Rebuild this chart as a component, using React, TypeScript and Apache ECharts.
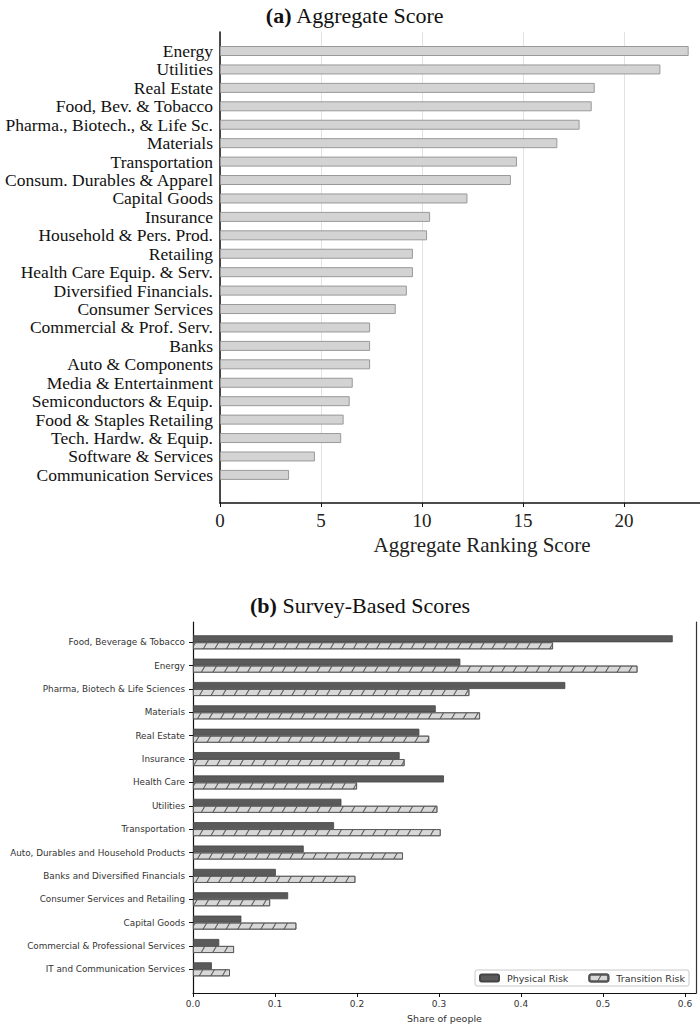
import React, { useEffect, useRef } from "react";
import * as echarts from "echarts";

const topCategories = [
  "Energy",
  "Utilities",
  "Real Estate",
  "Food, Bev. & Tobacco",
  "Pharma., Biotech., & Life Sc.",
  "Materials",
  "Transportation",
  "Consum. Durables & Apparel",
  "Capital Goods",
  "Insurance",
  "Household & Pers. Prod.",
  "Retailing",
  "Health Care Equip. & Serv.",
  "Diversified Financials.",
  "Consumer Services",
  "Commercial & Prof. Serv.",
  "Banks",
  "Auto & Components",
  "Media & Entertainment",
  "Semiconductors & Equip.",
  "Food & Staples Retailing",
  "Tech. Hardw. & Equip.",
  "Software & Services",
  "Communication Services",
];
const aggregateScores = [
  23.2, 21.8, 18.55, 18.4, 17.8, 16.7, 14.7, 14.4, 12.25, 10.4, 10.25, 9.55,
  9.55, 9.25, 8.7, 7.43, 7.43, 7.43, 6.57, 6.42, 6.12, 6.0, 4.7, 3.42,
];

const surveyCategories = [
  "Food, Beverage & Tobacco",
  "Energy",
  "Pharma, Biotech & Life Sciences",
  "Materials",
  "Real Estate",
  "Insurance",
  "Health Care",
  "Utilities",
  "Transportation",
  "Auto, Durables and Household Products",
  "Banks and Diversified Financials",
  "Consumer Services and Retailing",
  "Capital Goods",
  "Commercial & Professional Services",
  "IT and Communication Services",
];
const physicalRisk = [
  0.585, 0.326, 0.454, 0.296, 0.276, 0.252, 0.306, 0.181, 0.172, 0.135, 0.101,
  0.116, 0.059, 0.032, 0.023,
];
const transitionRisk = [
  0.439, 0.542, 0.337, 0.35, 0.288, 0.258, 0.2, 0.298, 0.302, 0.256, 0.198,
  0.094, 0.126, 0.05, 0.045,
];
const seriesNames = ["Physical Risk", "Transition Risk"];

const SERIF = "Liberation Serif";
const SANS = "DejaVu Sans";

export default function App() {
  const ref = useRef<HTMLDivElement>(null);
  useEffect(() => {
    const chart = echarts.init(ref.current!, null, { renderer: "svg" });
    const hatch = {
      symbol: "rect",
      symbolSize: 1,
      color: "#555",
      dashArrayX: [1, 0],
      dashArrayY: [1, 9],
      rotation: -Math.PI / 3,
    };
    chart.setOption({
      animation: false,
      backgroundColor: "#fff",
      graphic: [
        {
          type: "text",
          x: 355,
          y: 15,
          style: {
            text: "{b|(a)} Aggregate Score",
            fontFamily: SERIF,
            fontSize: 22,
            fill: "#111",
            textAlign: "center",
            textVerticalAlign: "middle",
            rich: { b: { fontWeight: "bold", fontFamily: SERIF, fontSize: 22, fill: "#111" } },
          },
        },
        {
          type: "text",
          x: 360,
          y: 605,
          style: {
            text: "{b|(b)} Survey-Based Scores",
            fontFamily: SERIF,
            fontSize: 22,
            fill: "#111",
            textAlign: "center",
            textVerticalAlign: "middle",
            rich: { b: { fontWeight: "bold", fontFamily: SERIF, fontSize: 22, fill: "#111" } },
          },
        },
      ],
      legend: {
        data: seriesNames,
        left: 475,
        top: 970,
        orient: "horizontal",
        itemWidth: 19,
        itemHeight: 7,
        itemGap: 20,
        padding: [3, 4, 3, 4],
        borderColor: "#c8c8c8",
        borderWidth: 1,
        borderRadius: 2,
        textStyle: { fontFamily: SANS, fontSize: 9.5, color: "#333", padding: [0, 0, 0, 3] },
      },
      grid: [
        { left: 220, width: 480, top: 32, height: 471 },
        { left: 220, width: 480, top: 41.8, height: 18.43 * 24 },
        { left: 193, width: 503, top: 622, height: 371 },
        { left: 193, width: 503, top: 630.6, height: 23.36 * 15 },
      ],
      xAxis: [
        {
          gridIndex: 0,
          type: "value",
          min: 0,
          max: 23.76,
          interval: 5,
          axisLine: { show: true, lineStyle: { color: "#111", width: 1.5 } },
          axisTick: { show: true, length: 4, lineStyle: { color: "#111" } },
          axisLabel: {
            fontFamily: SERIF,
            fontSize: 19,
            color: "#222",
            margin: 8,
            showMaxLabel: false,
          },
          splitLine: { show: true, lineStyle: { color: "#e2e2e2", width: 1 } },
          name: "Aggregate Ranking Score",
          nameLocation: "middle",
          nameGap: 31,
          nameTextStyle: {
            fontFamily: SERIF,
            fontSize: 21,
            color: "#222",
            padding: [0, 0, 0, 44],
          },
        },
        {
          gridIndex: 1,
          type: "value",
          min: 0,
          max: 23.76,
          show: false,
        },
        {
          gridIndex: 2,
          type: "value",
          min: 0,
          max: 0.6134,
          interval: 0.1,
          axisLine: { show: true, lineStyle: { color: "#111", width: 1.2 } },
          axisTick: { show: true, length: 4, lineStyle: { color: "#111" } },
          axisLabel: {
            fontFamily: SANS,
            fontSize: 9,
            color: "#333",
            margin: 6,
            formatter: (v: number) => v.toFixed(1),
            showMaxLabel: false,
          },
          splitLine: { show: false },
          name: "Share of people",
          nameLocation: "middle",
          nameGap: 20,
          nameTextStyle: { fontFamily: SANS, fontSize: 9.5, color: "#333" },
        },
        {
          gridIndex: 3,
          type: "value",
          min: 0,
          max: 0.6134,
          show: false,
        },
      ],
      yAxis: [
        {
          gridIndex: 0,
          type: "value",
          min: 0,
          max: 1,
          axisLine: { show: true, lineStyle: { color: "#111", width: 1.5 } },
          axisTick: { show: false },
          axisLabel: { show: false },
          splitLine: { show: false },
        },
        {
          gridIndex: 1,
          type: "category",
          data: topCategories,
          inverse: true,
          axisLine: { show: false },
          axisTick: { show: false },
          axisLabel: {
            interval: 0,
            fontFamily: SERIF,
            fontSize: 17.5,
            color: "#111",
            margin: 7,
          },
        },
        {
          gridIndex: 2,
          type: "value",
          min: 0,
          max: 1,
          axisLine: { show: true, lineStyle: { color: "#111", width: 1.2 } },
          axisTick: { show: false },
          axisLabel: { show: false },
          splitLine: { show: false },
        },
        {
          gridIndex: 2,
          type: "value",
          position: "right",
          min: 0,
          max: 1,
          axisLine: { show: true, lineStyle: { color: "#333", width: 1.2 } },
          axisTick: { show: false },
          axisLabel: { show: false },
          splitLine: { show: false },
        },
        {
          gridIndex: 3,
          type: "category",
          data: surveyCategories,
          inverse: true,
          axisLine: { show: false },
          axisTick: { show: true, alignWithLabel: true, length: 4, lineStyle: { color: "#111" } },
          axisLabel: { interval: 0, fontFamily: SANS, fontSize: 8.8, color: "#333", margin: 8 },
        },
      ],
      series: [
        {
          name: "Aggregate",
          type: "bar",
          xAxisIndex: 1,
          yAxisIndex: 1,
          data: aggregateScores,
          barWidth: 10,
          itemStyle: { color: "#d3d3d3", borderColor: "#999", borderWidth: 1 },
        },
        {
          name: seriesNames[0],
          type: "bar",
          xAxisIndex: 3,
          yAxisIndex: 4,
          data: physicalRisk,
          barWidth: 7,
          barGap: "0%",
          itemStyle: { color: "#5a5a5a", borderColor: "#444", borderWidth: 0.8 },
        },
        {
          name: seriesNames[1],
          type: "bar",
          xAxisIndex: 3,
          yAxisIndex: 4,
          data: transitionRisk,
          barWidth: 7,
          barGap: "0%",
          itemStyle: {
            color: "#d8d8d8",
            borderColor: "#555",
            borderWidth: 0.8,
            decal: hatch,
          },
        },
      ],
    });
    return () => chart.dispose();
  }, []);
  return (
    <div
      ref={ref}
      style={{ position: "absolute", left: 0, top: 0, width: 700, height: 1024, background: "#fff" }}
    />
  );
}
